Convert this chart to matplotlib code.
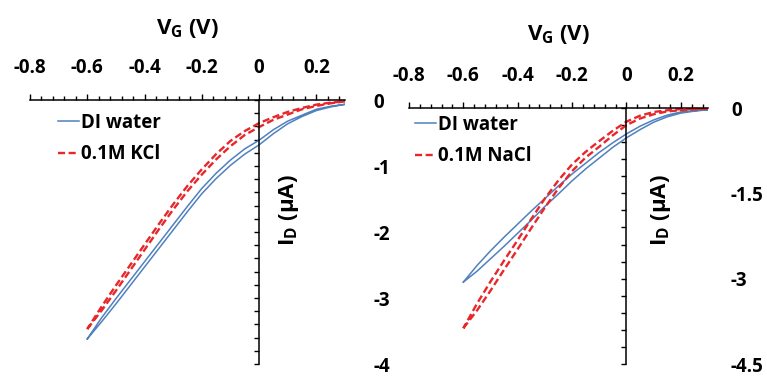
import matplotlib
matplotlib.use("Agg")
import matplotlib.pyplot as plt
from matplotlib.ticker import MultipleLocator, FixedLocator

plt.rcParams['font.family'] = ['Open Sans', 'DejaVu Sans']
plt.rcParams['font.weight'] = 'bold'
plt.rcParams['mathtext.fontset'] = 'custom'
plt.rcParams['mathtext.rm'] = 'Open Sans:bold'
plt.rcParams['mathtext.bf'] = 'Open Sans:bold'

# gate voltage sweep (V)
vg = [-0.6, -0.55, -0.5, -0.45, -0.4, -0.35, -0.3, -0.25, -0.2, -0.15,
      -0.1, -0.05, 0.0, 0.05, 0.1, 0.15, 0.2, 0.25, 0.3]

# left panel: DI water vs 0.1M KCl (uA), two sweep branches each
di_l_fwd = [-3.62, -3.36, -3.09, -2.81, -2.53, -2.25, -1.97, -1.69, -1.42, -1.19,
            -0.99, -0.82, -0.68, -0.51, -0.36, -0.25, -0.16, -0.105, -0.065]
di_l_rev = [-3.62, -3.30, -3.01, -2.73, -2.45, -2.17, -1.89, -1.61, -1.34, -1.11,
            -0.91, -0.74, -0.61, -0.45, -0.32, -0.23, -0.14, -0.095, -0.065]
kcl_fwd = [-3.47, -3.19, -2.89, -2.58, -2.27, -1.96, -1.66, -1.38, -1.13, -0.90,
           -0.70, -0.53, -0.41, -0.30, -0.22, -0.14, -0.09, -0.05, -0.02]
kcl_rev = [-3.47, -3.13, -2.81, -2.50, -2.19, -1.88, -1.58, -1.30, -1.05, -0.82,
           -0.62, -0.47, -0.35, -0.26, -0.18, -0.12, -0.07, -0.04, -0.02]

# right panel: DI water vs 0.1M NaCl (uA)
di_r_fwd = [-3.06, -2.87, -2.65, -2.43, -2.20, -1.97, -1.73, -1.51, -1.28, -1.07,
            -0.88, -0.69, -0.525, -0.38, -0.25, -0.155, -0.09, -0.055, -0.03]
di_r_rev = [-3.06, -2.77, -2.51, -2.27, -2.04, -1.81, -1.59, -1.37, -1.16, -0.97,
            -0.78, -0.61, -0.455, -0.32, -0.21, -0.125, -0.07, -0.045, -0.03]
nacl_fwd = [-3.87, -3.56, -3.21, -2.84, -2.48, -2.11, -1.75, -1.41, -1.11, -0.87,
            -0.68, -0.48, -0.30, -0.185, -0.11, -0.06, -0.04, -0.025, -0.01]
nacl_rev = [-3.87, -3.44, -3.05, -2.68, -2.32, -1.95, -1.59, -1.27, -0.99, -0.77,
            -0.58, -0.40, -0.24, -0.135, -0.07, -0.04, -0.02, -0.015, -0.01]

xticks = [-0.8, -0.6, -0.4, -0.2, 0, 0.2]
xticklabels = ['-0.8', '-0.6', '-0.4', '-0.2', '0', '0.2']

blue = '#4f81bd'
red = '#e8272b'

W, H = 767, 376
fig = plt.figure(figsize=(W / 100, H / 100), dpi=100)


def loop(fwd, rev):
    return vg + vg[::-1], fwd + rev[::-1]


def panel(rect, di, salt, salt_name, ylim, ymaj, ymin, ylabels, ypad, leg_xy, ylab_x, xlab_y):
    x0, y0, x1, y1 = rect
    ax = fig.add_axes([x0 / W, 1 - y1 / H, (x1 - x0) / W, (y1 - y0) / H])
    xs, ys = loop(*di)
    ax.plot(xs, ys, color=blue, lw=1.1, label='DI water')
    xs, ys = loop(*salt)
    ax.plot(xs, ys, color=red, lw=1.7, dashes=(3.0, 1.5), label=salt_name)
    ax.set_xlim(-0.8, 0.3)
    ax.set_ylim(*ylim)

    for s in ['right', 'bottom']:
        ax.spines[s].set_visible(False)
    ax.spines['left'].set_position(('data', 0))
    ax.spines['left'].set_linewidth(1.1)
    ax.spines['top'].set_linewidth(1.1)

    ax.xaxis.set_ticks_position('top')
    ax.xaxis.set_major_locator(FixedLocator(xticks))
    ax.set_xticklabels(xticklabels)
    ax.xaxis.set_minor_locator(MultipleLocator(0.04))
    ax.tick_params(axis='x', which='major', direction='out', length=4.5, width=1, labelsize=13.5, pad=11)
    ax.tick_params(axis='x', which='minor', direction='out', length=3, width=1)
    ax.xaxis.set_label_position('top')

    ax.yaxis.set_major_locator(FixedLocator(ymaj))
    ax.yaxis.set_minor_locator(MultipleLocator(ymin))
    ax.set_yticklabels(ylabels)
    ax.tick_params(axis='y', which='both', direction='out', left=True, right=False,
                   labelleft=False, labelright=True, width=1)
    ax.tick_params(axis='y', which='major', length=3.5, labelsize=13.5, pad=ypad)
    ax.tick_params(axis='y', which='minor', length=3.5)
    for t in ax.get_xticklabels() + ax.get_yticklabels():
        t.set_fontweight('bold')

    fig.text((x0 + x1) / 2 / W, 1 - xlab_y / H, r'$\mathregular{V_G}$ (V)',
             fontsize=16, fontweight='bold', ha='center', va='center')
    fig.text(ylab_x / W, 1 - 210 / H, r'$\mathregular{I_D}$ (µA)', rotation=90,
             fontsize=16, fontweight='bold', ha='center', va='center')

    ax.legend(loc='upper left', bbox_to_anchor=(leg_xy[0] / W, 1 - leg_xy[1] / H),
              bbox_transform=fig.transFigure, frameon=False,
              handlelength=1.1, handletextpad=0.15, labelspacing=0.6,
              borderpad=0, borderaxespad=0, prop={'weight': 'bold', 'size': 13.5})
    return ax


panel((30, 100, 345, 364), (di_l_fwd, di_l_rev), (kcl_fwd, kcl_rev), '0.1M KCl',
      (-4, 0), [0, -1, -2, -3, -4], 0.2, ['0', '-1', '-2', '-3', '-4'], 17,
      (58, 113), 289, 28)
panel((409, 108, 708, 364), (di_r_fwd, di_r_rev), (nacl_fwd, nacl_rev), '0.1M NaCl',
      (-4.5, 0), [0, -1.5, -3, -4.5], 0.3, ['0', '-1.5', '-3', '-4.5'], 13,
      (415, 115), 661, 35)

fig.savefig('out.png', dpi=100)
